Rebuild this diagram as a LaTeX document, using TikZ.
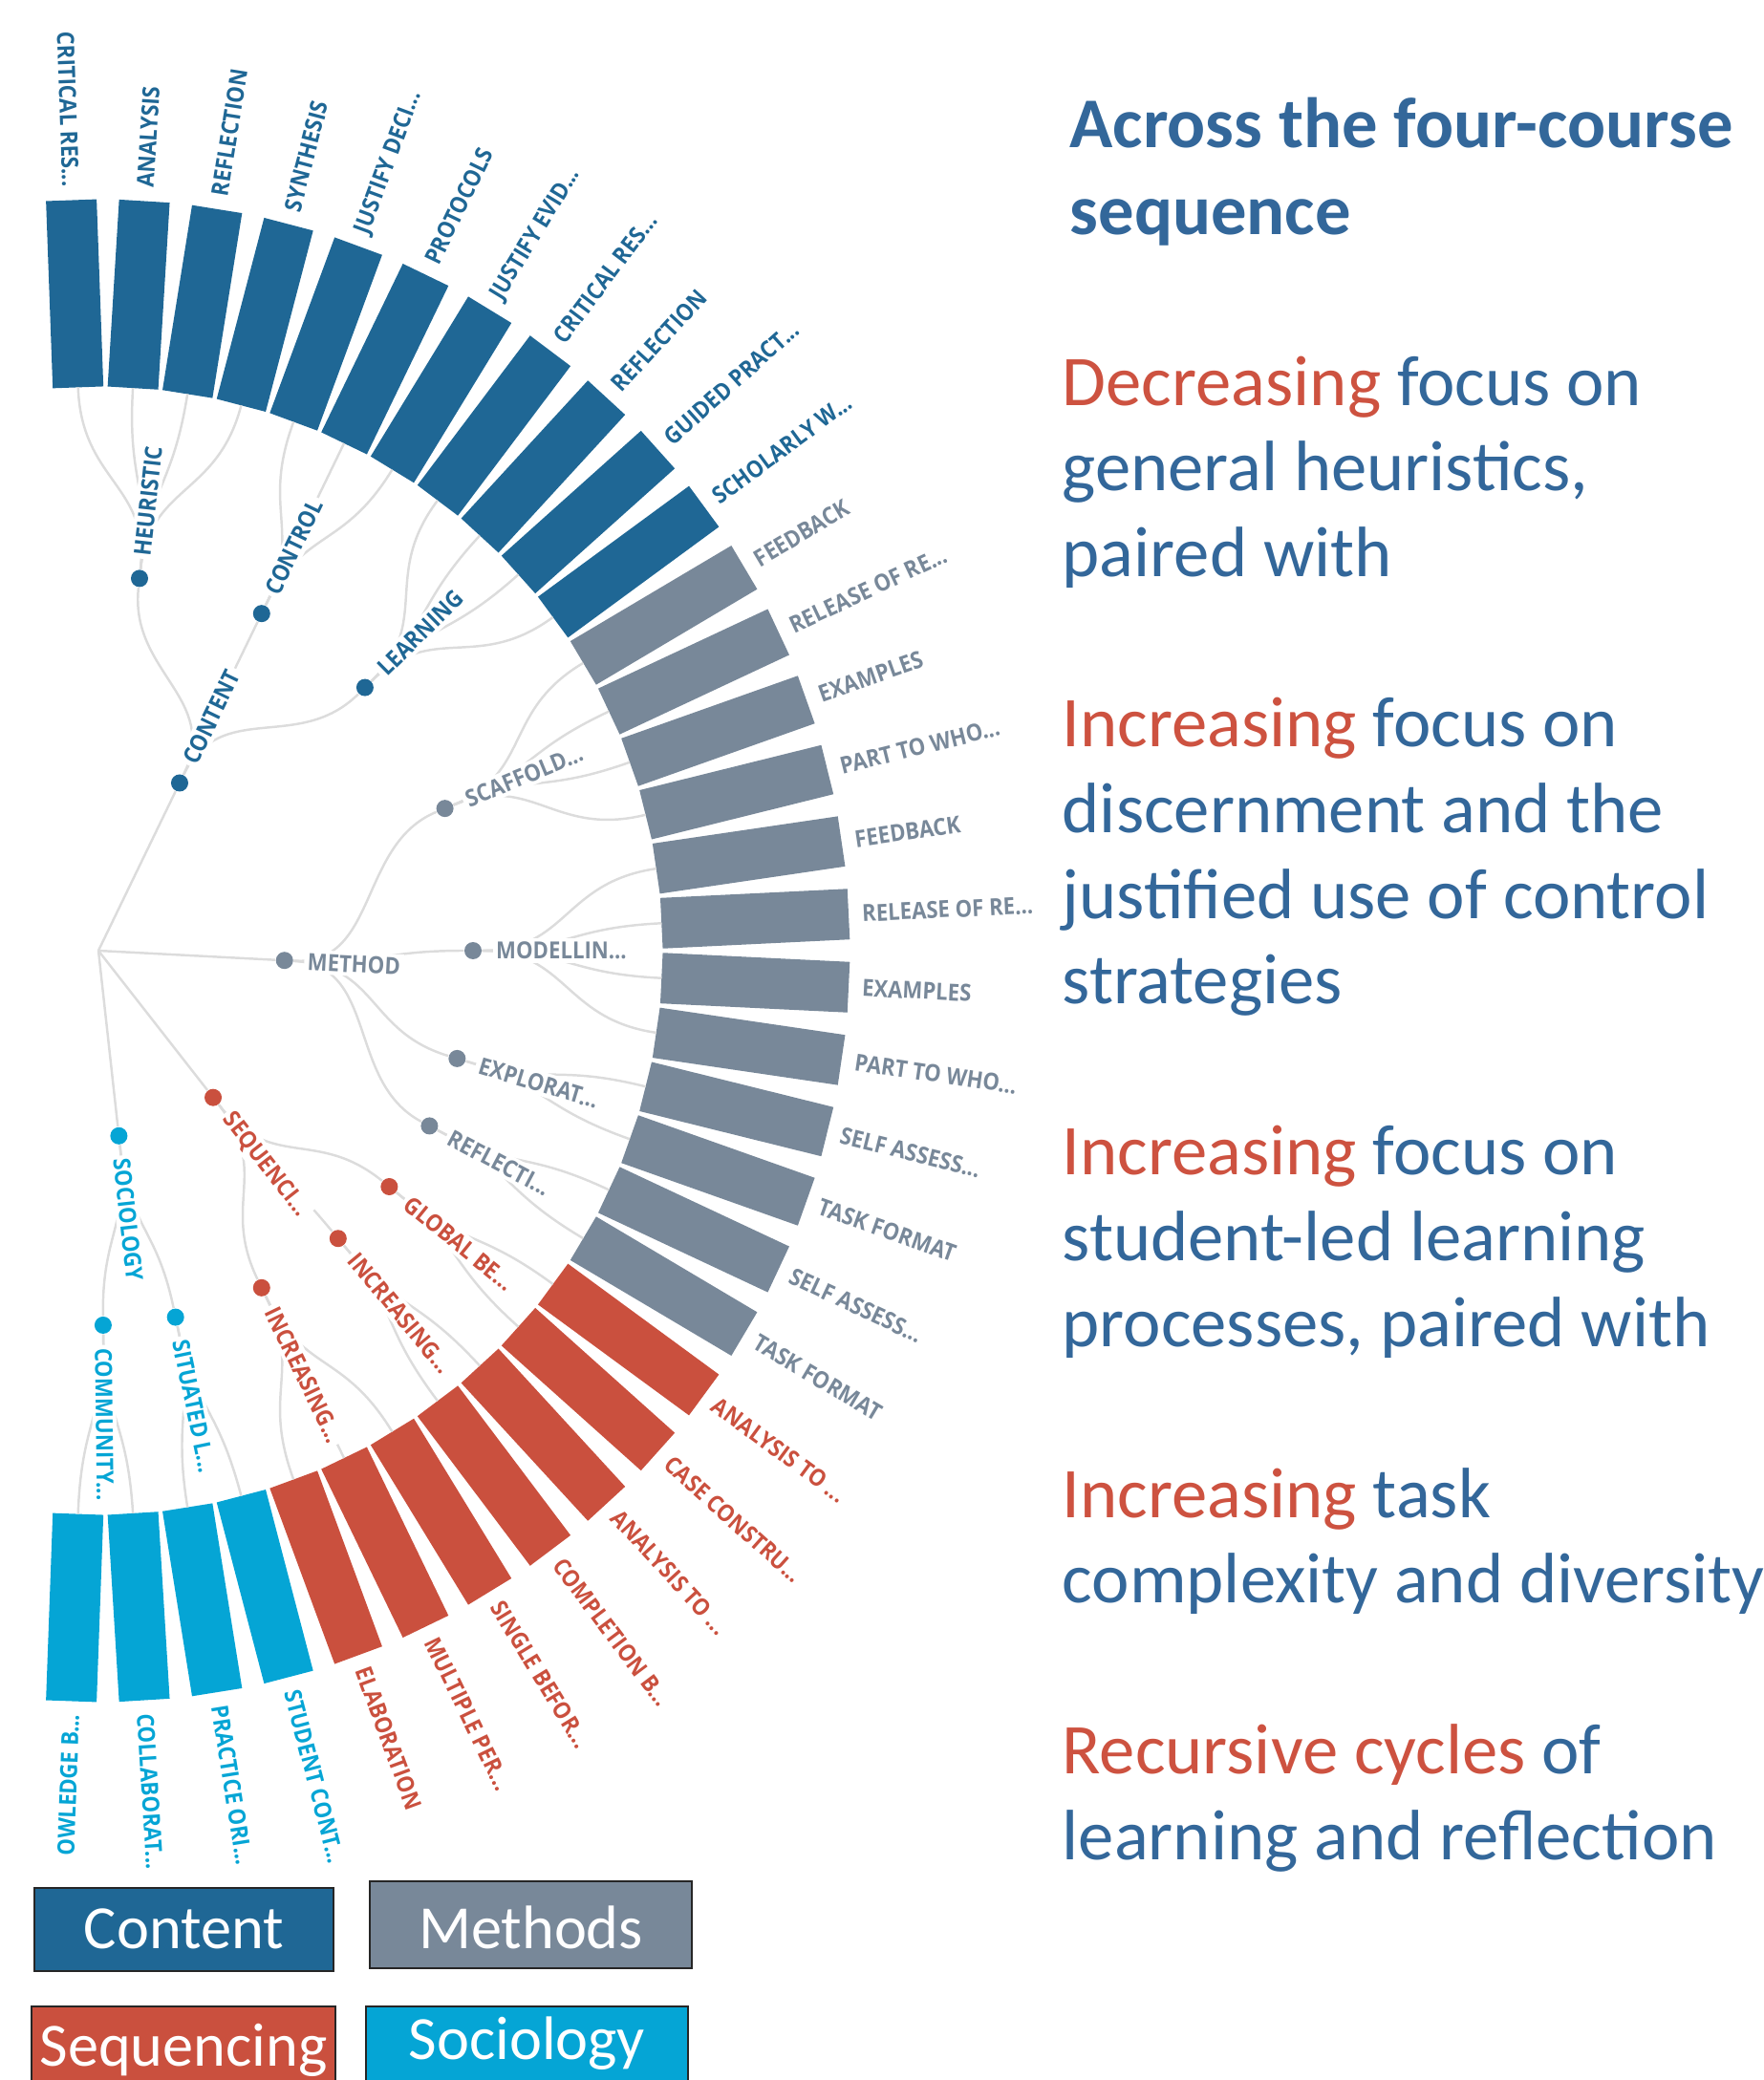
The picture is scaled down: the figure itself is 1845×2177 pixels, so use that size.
\documentclass[tikz,border=0pt]{standalone}
\usepackage{fontspec}
\setmainfont{Carlito}
\newfontfamily\lblfont[FakeStretch=0.9]{Open Sans}

\definecolor{contentblue}{HTML}{1F6795}
\definecolor{methodgray}{HTML}{788899}
\definecolor{seqred}{HTML}{CA503E}
\definecolor{socblue}{HTML}{05A5D5}
\definecolor{linkgray}{HTML}{DCDCDC}
\definecolor{textblue}{HTML}{33679A}
\definecolor{textred}{HTML}{CD5240}

% truncated labels end in three dots
\newcommand{\trunc}{...}

\tikzset{
  link/.style={draw=linkgray, line width=0.7pt},
  dot/.style={circle, inner sep=0pt, minimum size=1.8mm},
  barlbl/.style={font=\lblfont\bfseries\fontsize{7.0}{8}\selectfont, inner sep=1pt},
  ilbl/.style={barlbl, fill=white},
  para/.style={text=textblue, font=\fontsize{21.25}{25}\selectfont, inner sep=0pt, anchor=base west},
  legbox/.style={draw=black!85, line width=0.6pt, text=white, inner sep=0pt, anchor=base, font=\fontsize{18.3}{22}\selectfont}
}

\begin{document}
\begin{tikzpicture}[x=0.1mm,y=0.1mm]
    \clip (-103,-1182) rectangle (1742,995);

    % radial bars, one per leaf
    \foreach \lab/\col [count=\i from 0] in {
        CRITICAL RES\trunc/contentblue, ANALYSIS/contentblue, REFLECTION/contentblue,
        SYNTHESIS/contentblue, JUSTIFY DECI\trunc/contentblue, PROTOCOLS/contentblue,
        JUSTIFY EVID\trunc/contentblue, CRITICAL RES\trunc/contentblue, REFLECTION/contentblue,
        GUIDED PRACT\trunc/contentblue, SCHOLARLY W\trunc/contentblue,
        FEEDBACK/methodgray, RELEASE OF RE\trunc/methodgray, EXAMPLES/methodgray,
        PART TO WHO\trunc/methodgray, FEEDBACK/methodgray, RELEASE OF RE\trunc/methodgray,
        EXAMPLES/methodgray, PART TO WHO\trunc/methodgray, SELF ASSESS\trunc/methodgray,
        TASK FORMAT/methodgray, SELF ASSESS\trunc/methodgray, TASK FORMAT/methodgray,
        ANALYSIS TO \trunc/seqred, CASE CONSTRU\trunc/seqred, ANALYSIS TO \trunc/seqred,
        COMPLETION B\trunc/seqred, SINGLE BEFOR\trunc/seqred, MULTIPLE PER\trunc/seqred,
        ELABORATION/seqred,
        STUDENT CONT\trunc/socblue, PRACTICE ORI\trunc/socblue, COLLABORAT\trunc/socblue,
        OWLEDGE B\trunc/socblue} {
      \pgfmathsetmacro\ang{(16.5-\i)*5.58}
      \pgfmathtruncatemacro\flip{abs(\ang)>90}
      \fill[\col, rotate=\ang] (590,-26.5) rectangle (786,26.5);
      \coordinate (b\i) at (\ang:590);
      \ifnum\flip=1
        \node[barlbl, text=\col, rotate=\ang+180, anchor=east] (bl\i) at (\ang:796) {\lab};
      \else
        \node[barlbl, text=\col, rotate=\ang, anchor=west] (bl\i) at (\ang:796) {\lab};
      \fi
    }

    % tree nodes
    \coordinate (root) at (0,0);
    \foreach \nm/\a/\r/\col in {content/64.17/195/contentblue, method/-3/195/methodgray,
        sequenc/-52/195/seqred, sociol/-83.7/195/socblue,
        heur/83.7/392/contentblue, contr/64.17/392/contentblue, learn/44.64/392/contentblue,
        scaff/22.32/392/methodgray, model/0/392/methodgray, explo/-16.74/392/methodgray,
        refl/-27.9/392/methodgray, globl/-39.06/392/seqred, incra/-50.22/392/seqred,
        incrb/-64.17/392/seqred, situa/-78.12/392/socblue, commu/-89.28/392/socblue}
      \node[dot, fill=\col] (\nm) at (\a:\r) {};

    % links
    \foreach \c in {content, method, sequenc, sociol}
      \draw[link] (root) -- (\c);
    \foreach \p/\pa/\c/\ca in {content/64.17/heur/83.7, content/64.17/contr/64.17,
        content/64.17/learn/44.64, method/-3/scaff/22.32, method/-3/model/0,
        method/-3/explo/-16.74, method/-3/refl/-27.9, sequenc/-52/globl/-39.06,
        sequenc/-52/incra/-50.22, sequenc/-52/incrb/-64.17, sociol/-83.7/situa/-78.12,
        sociol/-83.7/commu/-89.28}
      \draw[link] (\p) .. controls (\pa:293.5) and (\ca:293.5) .. (\c);
    \foreach \p/\pa/\first/\last in {heur/83.7/0/3, contr/64.17/4/6, learn/44.64/7/10,
        scaff/22.32/11/14, model/0/15/18, explo/-16.74/19/20, refl/-27.9/21/22,
        globl/-39.06/23/24, incra/-50.22/25/26, incrb/-64.17/27/29,
        situa/-78.12/30/31, commu/-89.28/32/33}
      \foreach \j in {\first,...,\last} {
        \pgfmathsetmacro\la{(16.5-\j)*5.58}
        \draw[link] (\p) .. controls (\pa:491) and (\la:491) .. (b\j);
      }

    % tree labels
    \foreach \nm/\a/\r/\col/\txt in {content/64.17/195/contentblue/CONTENT,
        method/-3/195/methodgray/METHOD, sequenc/-52/195/seqred/SEQUENCI\trunc,
        sociol/-83.7/195/socblue/SOCIOLOGY, heur/83.7/392/contentblue/HEURISTIC,
        contr/64.17/392/contentblue/CONTROL, learn/44.64/392/contentblue/LEARNING,
        scaff/22.32/392/methodgray/SCAFFOLD\trunc, model/0/392/methodgray/MODELLIN\trunc,
        explo/-16.74/392/methodgray/EXPLORAT\trunc, refl/-27.9/392/methodgray/REFLECTI\trunc,
        globl/-39.06/392/seqred/GLOBAL BE\trunc, incra/-50.22/392/seqred/INCREASING\trunc,
        incrb/-64.17/392/seqred/INCREASING\trunc, situa/-78.12/392/socblue/SITUATED L\trunc,
        commu/-89.28/392/socblue/COMMUNITY\trunc} {
      \pgfmathsetmacro\rl{\r+20}
      \node[ilbl, text=\col, rotate=\a, anchor=west] (l\nm) at (\a:\rl) {\txt};
    }

    % text on the right
    \node[para, font=\bfseries\fontsize{21.25}{25}\selectfont] (title1) at (1016,840) {Across the four-course};
    \node[para, font=\bfseries\fontsize{21.25}{25}\selectfont] (title2) at (1016,749) {sequence};
    \node[para] (dec1) at (1008,570.4) {\textcolor{textred}{Decreasing} focus on};
    \node[para] (dec2) at (1008,481) {general heuristics,};
    \node[para] (dec3) at (1008,391.4) {paired with};
    \node[para] (inc1) at (1008,213) {\textcolor{textred}{Increasing} focus on};
    \node[para] (inc2) at (1008,123) {discernment and the};
    \node[para] (inc3) at (1008,33.2) {justified use of control};
    \node[para] (inc4) at (1008,-55) {strategies};
    \node[para] (stu1) at (1008,-234.8) {\textcolor{textred}{Increasing} focus on};
    \node[para] (stu2) at (1008,-324.5) {student-led learning};
    \node[para] (stu3) at (1008,-414) {processes, paired with};
    \node[para] (task1) at (1008,-593.6) {\textcolor{textred}{Increasing} task};
    \node[para] (task2) at (1008,-682.9) {complexity and diversity};
    \node[para] (rec1) at (1008,-861.4) {\textcolor{textred}{Recursive cycles} of};
    \node[para] (rec2) at (1008,-951.4) {learning and reflection};

    % legend
    \node[legbox, fill=contentblue, minimum width=31.3mm, text height=6.3mm, text depth=2.4mm] (legcontent) at (89.5,-1044) {Content};
    \node[legbox, fill=methodgray, minimum width=33.7mm, text height=7mm, text depth=2.1mm] (legmethods) at (452.5,-1044) {Methods};
    \node[legbox, fill=seqred, minimum width=31.8mm, text height=6.27mm, text depth=3.5mm] (legseq) at (89,-1167.7) {Sequencing};
    \node[legbox, fill=socblue, minimum width=33.7mm, text height=5.5mm, text depth=4.2mm] (legsoc) at (448.5,-1160) {Sociology};
\end{tikzpicture}
\end{document}
